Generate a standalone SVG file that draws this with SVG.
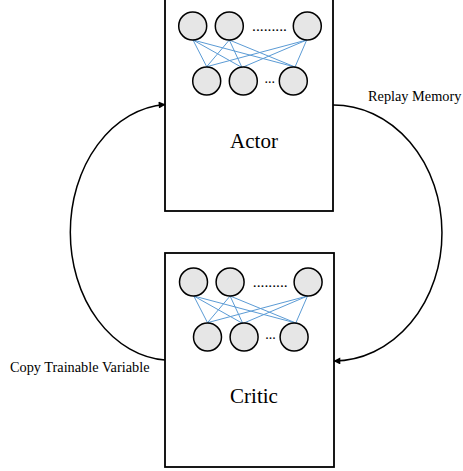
<svg xmlns="http://www.w3.org/2000/svg" width="463" height="471" viewBox="0 0 463 471">
<style>
.box{fill:#fff;stroke:#000;stroke-width:1.8}
.n{fill:#e6e6e6;stroke:#000;stroke-width:1.5}
.w{stroke:#5b9bd5;stroke-width:1;fill:none}
.t{font-family:"Liberation Serif",serif;fill:#000}
.c{fill:none;stroke:#000;stroke-width:1.5}
</style>
<defs>
<marker id="ah" viewBox="0 0 10 10" refX="9" refY="5" markerWidth="8" markerHeight="7" markerUnits="userSpaceOnUse" orient="auto">
<path d="M0,0 L10,5 L0,10 z" fill="#000"/>
</marker>
<g id="net">
<g class="w">
<path d="M193,40 L206.7,66.7 M193,40 L242,67.5 M193,40 L295,67 M229.3,40 L206.7,66.7 M229.3,40 L242,67.5 M229.3,40 L295,67 M306.7,40 L206.7,66.7 M306.7,40 L242,67.5 M306.7,40 L295,67"/>
</g>
<circle class="n" cx="192.7" cy="26" r="14"/>
<circle class="n" cx="229.3" cy="26" r="14"/>
<circle class="n" cx="307.3" cy="26" r="14"/>
<circle class="n" cx="206.7" cy="81" r="14"/>
<circle class="n" cx="243.3" cy="81" r="14"/>
<circle class="n" cx="293.3" cy="81" r="14"/>
<text class="t" x="252" y="31" font-size="15.5">.........</text>
<text class="t" x="264.5" y="83" font-size="14">...</text>
</g>
</defs>
<g id="actor">
<rect class="box" x="165" y="-3" width="168" height="214"/>
<use href="#net"/>
<text class="t" x="254" y="148" font-size="21" text-anchor="middle">Actor</text>
</g>
<g id="critic">
<rect class="box" x="165" y="253" width="169" height="214"/>
<use href="#net" transform="translate(0.8,256)"/>
<text class="t" x="254" y="403" font-size="21" text-anchor="middle">Critic</text>
</g>
<g id="connectors">
<path class="c" d="M165,360 A101,128 0 0 1 165,104.5" marker-end="url(#ah)"/>
<path class="c" d="M333,105 A108.5,128 0 0 1 334,361" marker-end="url(#ah)"/>
<text class="t" x="368" y="101" font-size="14.3">Replay Memory</text>
<text class="t" x="10" y="372" font-size="14.3">Copy Trainable Variable</text>
</g>
</svg>
